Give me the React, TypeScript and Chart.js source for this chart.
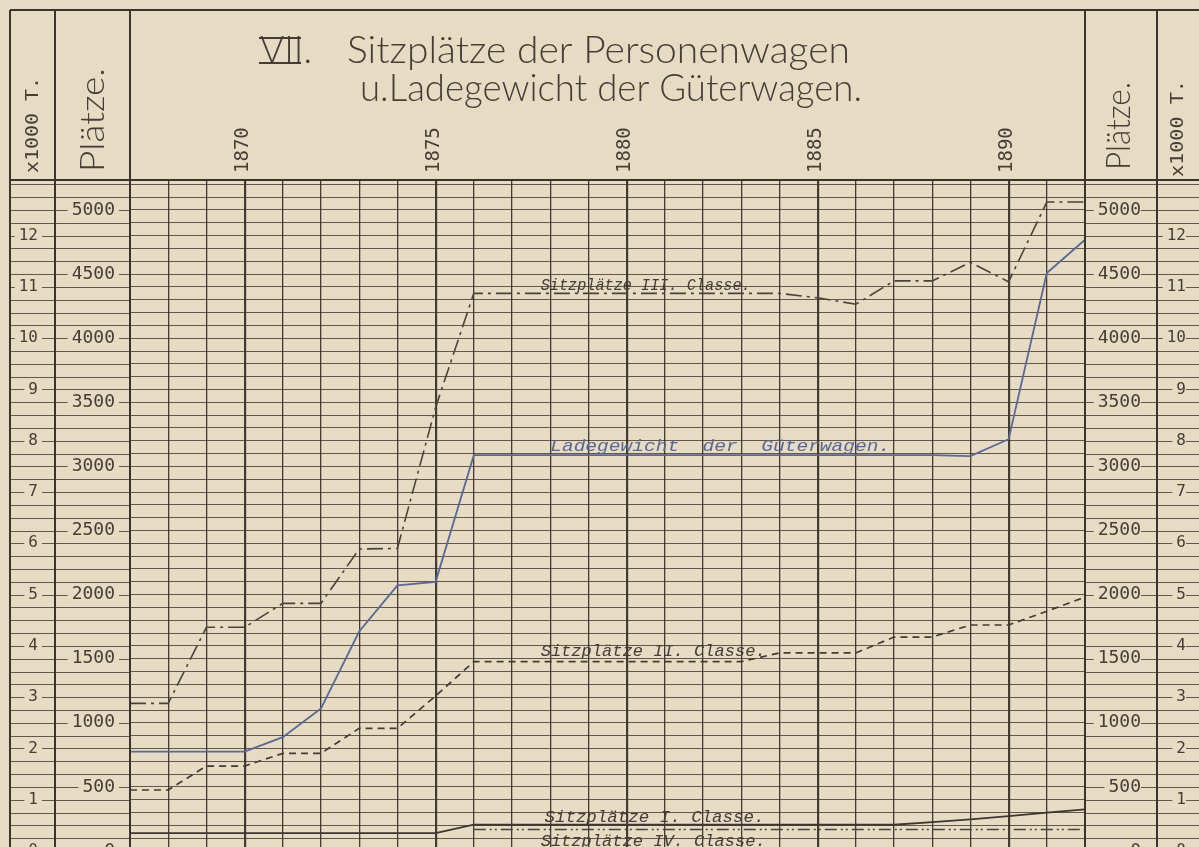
import React, { useEffect, useRef } from 'react';
import { Chart, registerables } from 'chart.js';

Chart.register(...registerables);

// ---------- data ----------
const years = [1867, 1868, 1869, 1870, 1871, 1872, 1873, 1874, 1875, 1876, 1877, 1878, 1879,
  1880, 1881, 1882, 1883, 1884, 1885, 1886, 1887, 1888, 1889, 1890, 1891, 1892];

// Sitzplätze (places)
const thirdClassSeats = [1152, 1152, 1745, 1745, 1932, 1932, 2356, 2360, 3460, 4350, 4350, 4350, 4350,
  4350, 4350, 4350, 4350, 4350, 4315, 4265, 4447, 4447, 4592, 4440, 5062, 5062];
const secondClassSeats = [476, 476, 663, 663, 762, 762, 957, 957, 1210, 1477, 1477, 1477, 1477,
  1477, 1477, 1477, 1477, 1545, 1545, 1545, 1669, 1669, 1763, 1763, 1870, 1981];
const firstClassSeats = [140, 140, 140, 140, 140, 140, 140, 140, 140, 205, 205, 205, 205,
  205, 205, 205, 205, 205, 205, 205, 205, 225, 247, 272, 299, 325];
const fourthClassSeats = [null, null, null, null, null, null, null, null, null, 168, 168, 168, 168,
  168, 168, 168, 168, 168, 168, 168, 168, 168, 168, 168, 168, 168];
// Ladegewicht der Güterwagen (x 1000 t)
const goodsWagonLoad = [1.94, 1.94, 1.94, 1.94, 2.22, 2.78, 4.28, 5.18, 5.25, 7.72, 7.72, 7.72, 7.72,
  7.72, 7.72, 7.72, 7.72, 7.72, 7.72, 7.72, 7.72, 7.72, 7.70, 8.03, 11.27, 11.92];

const placeTickLabels = [0, 500, 1000, 1500, 2000, 2500, 3000, 3500, 4000, 4500, 5000];
const tonTickLabels = [0, 1, 2, 3, 4, 5, 6, 7, 8, 9, 10, 11, 12];
const yearTickLabels = [1870, 1875, 1880, 1885, 1890];

// ---------- styling ----------
const PAPER = '#e6dbc3';
const INK = '#453d36';
const FRAME = '#3b342e';
const GRID = 'rgba(60,50,42,0.78)';
const BLUE = '#5a6797';
const MONO = '"DejaVu Sans Mono", "Liberation Mono", monospace';
const TITLE = 'Lato, "Noto Sans", sans-serif';
const ITAL = '"Liberation Mono", "DejaVu Sans Mono", monospace';

const P_MIN = -226;
const P_MAX = 5234;
const PLACES_PER_KT = 400;

const seriesLabels = [
  { text: 'Sitzplätze III. Classe.', values: thirdClassSeats, axis: 'p', at: 1880, left: 1877.75, width: 210, dy: -3, color: INK },
  { text: 'Ladegewicht  der  Güterwagen.', values: goodsWagonLoad, axis: 't', at: 1880, left: 1878.0, width: 340, dy: -4, color: BLUE },
  { text: 'Sitzplätze II. Classe.', values: secondClassSeats, axis: 'p', at: 1880, left: 1877.75, width: 225, dy: -6, color: INK },
  { text: 'Sitzplätze I. Classe.', values: firstClassSeats, axis: 'p', at: 1880, left: 1877.85, width: 220, dy: -3, color: INK },
  { text: 'Sitzplätze IV. Classe.', values: fourthClassSeats, axis: 'p', at: 1880, left: 1877.75, width: 225, dy: 17, color: INK },
];

function fitText(ctx: CanvasRenderingContext2D, text: string, x: number, y: number, w: number) {
  const m = ctx.measureText(text).width || 1;
  ctx.save();
  ctx.translate(x, y);
  ctx.scale(w / m, 1);
  ctx.textAlign = 'left';
  ctx.fillText(text, 0, 0);
  ctx.restore();
}

function upText(ctx: CanvasRenderingContext2D, text: string, cx: number, yStart: number, len: number) {
  ctx.save();
  ctx.translate(cx, yStart);
  ctx.rotate(-Math.PI / 2);
  const m = ctx.measureText(text).width || 1;
  ctx.scale(len / m, 1);
  ctx.textAlign = 'left';
  ctx.textBaseline = 'middle';
  ctx.fillText(text, 0, 0);
  ctx.restore();
}

function seg(ctx: CanvasRenderingContext2D, x1: number, y1: number, x2: number, y2: number) {
  ctx.beginPath();
  ctx.moveTo(x1, y1);
  ctx.lineTo(x2, y2);
  ctx.stroke();
}

const sheetPlugin = {
  id: 'sheet',
  beforeDraw(chart: any) {
    const { ctx, width, height, chartArea } = chart;
    ctx.save();
    ctx.fillStyle = PAPER;
    ctx.fillRect(0, 0, width, height);
    // ruled lines continuing through the side columns
    const p = chart.scales.p;
    const t = chart.scales.t;
    ctx.strokeStyle = GRID;
    ctx.lineWidth = 1;
    for (const tk of p.ticks) {
      const y = Math.round(p.getPixelForValue(tk.value)) + 0.5;
      if (y < chartArea.top + 1) continue;
      seg(ctx, t.left, y, chartArea.left, y);
      seg(ctx, chartArea.right, y, width, y);
    }
    ctx.restore();
  },
  afterDatasetsDraw(chart: any) {
    const { ctx } = chart;
    const x = chart.scales.x;
    ctx.save();
    ctx.font = 'italic 17px ' + ITAL;
    ctx.textBaseline = 'alphabetic';
    for (const l of seriesLabels) {
      const sc = chart.scales[l.axis];
      const v = l.values[years.indexOf(l.at)] as number;
      ctx.fillStyle = l.color;
      fitText(ctx, l.text, x.getPixelForValue(l.left), sc.getPixelForValue(v) + l.dy, l.width);
    }
    ctx.restore();
  },
  afterDraw(chart: any) {
    const { ctx, width, height, chartArea } = chart;
    const t = chart.scales.t;
    const xL = t.left;
    const xT = t.right;
    const xP = chartArea.left;
    const xR1 = chartArea.right;
    const xR2 = chartArea.right + 72;
    const top = 10;
    ctx.save();
    ctx.strokeStyle = FRAME;
    ctx.lineWidth = 2;
    seg(ctx, xL, top, width, top);
    seg(ctx, xL, chartArea.top, width, chartArea.top);
    for (const xx of [xL, xT, xP, xR1, xR2]) seg(ctx, xx, top, xx, height);

    // title
    ctx.fillStyle = INK;
    ctx.textBaseline = 'alphabetic';
    ctx.font = '300 38px ' + TITLE;
    fitText(ctx, 'VII.', 260, 63, 52);
    ctx.lineWidth = 2;
    ctx.strokeStyle = INK;
    seg(ctx, 259, 38, 301, 38);
    seg(ctx, 259, 63, 301, 63);
    fitText(ctx, 'Sitzplätze der Personenwagen', 347, 63, 503);
    fitText(ctx, 'u.Ladegewicht der Güterwagen.', 360, 101, 502);

    // column headings
    ctx.font = '18px ' + MONO;
    upText(ctx, 'x1000 T.', (xL + xT) / 2 + 1, 173, 96);
    upText(ctx, 'x1000 T.', xR2 + 21, 177, 97);
    ctx.font = '300 34px ' + TITLE;
    upText(ctx, 'Plätze.', (xT + xP) / 2 + 1, 172, 104);
    upText(ctx, 'Plätze.', (xR1 + xR2) / 2 - 2, 170, 88);
    ctx.restore();
  },
};

const tickFont = { family: MONO, size: 18, lineHeight: 1 };
const smallFont = { family: MONO, size: 16, lineHeight: 1 };
const placeLabel = (v: number) => (placeTickLabels.includes(v) ? String(v) : '');
const tonLabel = (v: number) => (tonTickLabels.includes(Math.round(v * 1000) / 1000) ? String(Math.round(v)) : '');
const backdrop = (test: (v: number) => string) => (c: any) => (c.tick && test(c.tick.value) ? PAPER : 'rgba(0,0,0,0)');
const pad = { top: 0, bottom: 0, left: 4, right: 4 };
const fixWidth = (w: number) => (s: any) => {
  s.width = w;
  s.paddingTop = 0;
  s.paddingBottom = 0;
};

export default function App() {
  const ref = useRef<HTMLCanvasElement>(null);
  useEffect(() => {
    const canvas = ref.current;
    if (!canvas) return;
    const chart = new Chart(canvas, {
      type: 'line',
      data: {
        datasets: [
          {
            label: 'Sitzplätze III. Classe',
            data: years.map((x, i) => ({ x, y: thirdClassSeats[i] })),
            yAxisID: 'p', borderColor: '#4a433d', borderWidth: 1.6, borderDash: [16, 5, 3, 5],
            pointRadius: 0, tension: 0,
          },
          {
            label: 'Ladegewicht der Güterwagen',
            data: years.map((x, i) => ({ x, y: goodsWagonLoad[i] })),
            yAxisID: 't', borderColor: BLUE, borderWidth: 1.8,
            pointRadius: 0, tension: 0,
          },
          {
            label: 'Sitzplätze II. Classe',
            data: years.map((x, i) => ({ x, y: secondClassSeats[i] })),
            yAxisID: 'p', borderColor: '#433c36', borderWidth: 1.7, borderDash: [7, 5],
            pointRadius: 0, tension: 0,
          },
          {
            label: 'Sitzplätze I. Classe',
            data: years.map((x, i) => ({ x, y: firstClassSeats[i] })),
            yAxisID: 'p', borderColor: '#3d3631', borderWidth: 1.8,
            pointRadius: 0, tension: 0,
          },
          {
            label: 'Sitzplätze IV. Classe',
            data: years.map((x, i) => ({ x, y: fourthClassSeats[i] })),
            yAxisID: 'p', borderColor: '#4a433d', borderWidth: 1.6, borderDash: [12, 4, 2, 3, 2, 4],
            pointRadius: 0, tension: 0,
          },
        ],
      },
      options: {
        responsive: false,
        animation: false,
        events: [],
        layout: { autoPadding: false, padding: { left: 10, top: 10, right: 13, bottom: 0 } },
        plugins: { legend: { display: false }, tooltip: { enabled: false }, title: { display: false } },
        scales: {
          x: {
            type: 'linear', position: 'top', min: 1867, max: 1892,
            afterFit: (s: any) => { s.height = 170; },
            ticks: {
              stepSize: 1, autoSkip: false, minRotation: 90, maxRotation: 90, padding: 7, labelOffset: 21,
              color: INK, font: { family: MONO, size: 19 },
              callback: (v: any) => (yearTickLabels.includes(Number(v)) ? String(v) : ''),
            },
            grid: {
              color: 'rgba(50,42,36,0.9)', drawTicks: false,
              lineWidth: (c: any) => (c.tick && c.tick.value % 5 === 0 ? 2.2 : 1.3),
            },
            border: { color: FRAME, width: 2 },
          },
          p: {
            type: 'linear', position: 'left', weight: 0, min: P_MIN, max: P_MAX,
            afterFit: fixWidth(75),
            ticks: {
              stepSize: 100, autoSkip: false, includeBounds: false, padding: 15, crossAlign: 'near',
              color: INK, font: tickFont, callback: (v: any) => placeLabel(Number(v)),
              showLabelBackdrop: true, backdropColor: backdrop(placeLabel), backdropPadding: pad,
            },
            grid: { color: GRID, lineWidth: 1, drawTicks: false },
            border: { color: FRAME, width: 2 },
          },
          t: {
            type: 'linear', position: 'left', weight: 1,
            min: P_MIN / PLACES_PER_KT, max: P_MAX / PLACES_PER_KT,
            afterFit: fixWidth(45),
            ticks: {
              stepSize: 1, autoSkip: false, includeBounds: false, padding: 17, crossAlign: 'near',
              color: INK, font: smallFont, callback: (v: any) => tonLabel(Number(v)),
              showLabelBackdrop: true, backdropColor: backdrop(tonLabel), backdropPadding: pad,
            },
            grid: { display: false, drawTicks: false },
            border: { display: false },
          },
          p2: {
            type: 'linear', position: 'right', weight: 0, min: P_MIN, max: P_MAX,
            afterFit: fixWidth(56),
            ticks: {
              stepSize: 100, autoSkip: false, includeBounds: false, padding: 0, crossAlign: 'far',
              color: INK, font: tickFont, callback: (v: any) => placeLabel(Number(v)),
              showLabelBackdrop: true, backdropColor: backdrop(placeLabel), backdropPadding: pad,
            },
            grid: { display: false, drawTicks: false },
            border: { color: FRAME, width: 2 },
          },
          t2: {
            type: 'linear', position: 'right', weight: 1,
            min: P_MIN / PLACES_PER_KT, max: P_MAX / PLACES_PER_KT,
            afterFit: fixWidth(45),
            ticks: {
              stepSize: 1, autoSkip: false, includeBounds: false, padding: 0, crossAlign: 'far',
              color: INK, font: smallFont, callback: (v: any) => tonLabel(Number(v)),
              showLabelBackdrop: true, backdropColor: backdrop(tonLabel), backdropPadding: pad,
            },
            grid: { display: false, drawTicks: false },
            border: { display: false },
          },
        },
      } as any,
      plugins: [sheetPlugin],
    });
    return () => chart.destroy();
  }, []);

  return (
    <div style={{ position: 'fixed', left: 0, top: 0, width: 1199, height: 847, overflow: 'hidden', background: PAPER }}>
      <canvas ref={ref} width={1199} height={880} style={{ display: 'block', width: 1199, height: 880 }} />
    </div>
  );
}
